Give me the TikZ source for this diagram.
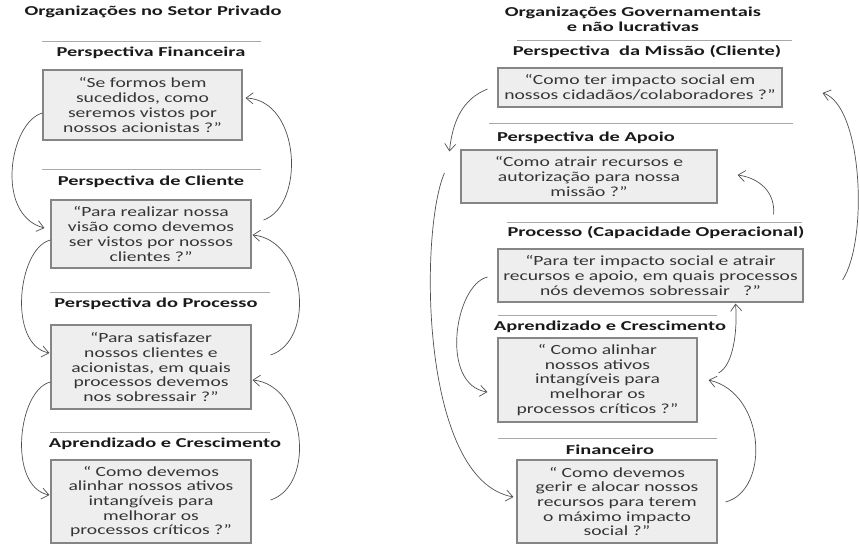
\documentclass[tikz,border=0pt]{standalone}
\usepackage{fontspec}
\setmainfont{Carlito}
\newfontfamily\bodyfont[FakeStretch=1.4]{Carlito}
\newfontfamily\headfont[FakeStretch=1.5]{Carlito}
\usetikzlibrary{arrows.meta}
\definecolor{boxfill}{HTML}{EEEEEE}
\definecolor{boxline}{HTML}{858585}
\definecolor{rulecol}{HTML}{A8A8A8}
\definecolor{linkcol}{HTML}{505050}
\definecolor{txtcol}{HTML}{353535}
\definecolor{headcol}{HTML}{1A1A1A}
\begin{document}
\begin{tikzpicture}[x=1pt,y=-1pt,
  qbox/.style={draw=boxline, line width=1.1pt, fill=boxfill, inner sep=0pt,
    align=center, text=txtcol, font=\bodyfont\fontsize{14}{14.7}\selectfont},
  head/.style={inner sep=0pt, text=headcol, font=\headfont\bfseries\fontsize{13.6}{15}\selectfont, align=center},
  rulebar/.style={draw=rulecol, line width=1pt},
  link/.style={draw=linkcol, line width=0.7pt, -{Straight Barb[length=7pt,width=11pt]}}]
\useasboundingbox[fill=white] (0,0) rectangle (860,544);

% ---------------- private sector column ----------------
\node[head] (tl) at (153,12) {Organizações no Setor Privado};

\draw[rulebar] (42,41) -- (261,41);
\node[head] (hf1) at (151,53) {Perspectiva Financeira};
\node[qbox, minimum width=199pt, minimum height=70pt] (f1) at (142.5,105)
  {“Se formos bem\\sucedidos, como\\seremos vistos por\\nossos acionistas ?”};

\draw[rulebar] (42,169) -- (261,169);
\node[head] (hc1) at (151,182) {Perspectiva de Cliente};
\node[qbox, minimum width=200pt, minimum height=68pt] (c1) at (151,234)
  {“Para realizar nossa\\visão como devemos\\ser vistos por nossos\\clientes ?”};

\draw[rulebar] (50,292) -- (270,292);
\node[head] (hp1) at (156,304) {Perspectiva do Processo};
\node[qbox, minimum width=200pt, minimum height=84pt] (p1) at (151,367)
  {“Para satisfazer\\nossos clientes e\\acionistas, em quais\\processos devemos\\nos sobressair ?”};

\draw[rulebar] (50,432) -- (270,432);
\node[head] (hl1) at (165,444) {Aprendizado e Crescimento};
\node[qbox, minimum width=200pt, minimum height=83pt] (l1) at (151,501.5)
  {“\ Como devemos\\alinhar nossos ativos\\intangíveis para\\melhorar os\\processos críticos ?”};

% feedback loops, private sector
\draw[link] ([yshift=-8pt]f1.west) .. controls +(-33,9) and +(-50,-13) .. ([xshift=-6pt,yshift=6pt]c1.west);
\draw[link] ([xshift=12pt,yshift=14pt]c1.east) .. controls +(42,-15) and +(55,2) .. ([xshift=3pt,yshift=7pt]f1.east);
\draw[link] ([yshift=-6pt]c1.west) .. controls +(-33,8) and +(-42,-8) .. ([xshift=-1pt,yshift=14pt]p1.west);
\draw[link] ([xshift=19pt,yshift=12pt]p1.east) .. controls +(46,-15) and +(53,5) .. ([xshift=1pt,yshift=-1pt]c1.east);
\draw[link] ([yshift=-15pt]p1.west) .. controls +(-33,8) and +(-42,-8) .. ([xshift=-1pt,yshift=6.5pt]l1.west);
\draw[link] ([xshift=19pt,yshift=1.5pt]l1.east) .. controls +(46,-15) and +(53,5) .. ([xshift=1pt,yshift=-13pt]p1.east);

% ---------------- public / non-profit column ----------------
\node[head] (tr) at (633,19) {Organizações Governamentais\\e não lucrativas};

\draw[rulebar] (517,40) -- (792,40);
\node[head] (hm) at (647,52) {Perspectiva\ \ da Missão (Cliente)};
\node[qbox, minimum width=284pt, minimum height=39pt] (m2) at (640,87.5)
  {“Como ter impacto social em\\nossos cidadãos/colaboradores ?”};

\draw[rulebar] (489,123) -- (793,123);
\node[head] (ha) at (586,138) {Perspectiva de Apoio};
\node[qbox, minimum width=256pt, minimum height=53pt] (a2) at (589,176.5)
  {“Como atrair recursos e\\autorização para nossa\\missão ?”};

\draw[rulebar] (507,222) -- (802,222);
\node[head] (hp2) at (656,233) {Processo (Capacidade Operacional)};
\node[qbox, minimum width=305pt, minimum height=53pt] (p2) at (650.5,275.5)
  {“Para ter impacto social e atrair\\recursos e apoio, em quais processos\\nós devemos sobressair\ \ \ ?”};

\draw[rulebar] (498,315) -- (717,315);
\node[head] (hl2) at (610,327) {Aprendizado e Crescimento};
\node[qbox, minimum width=199pt, minimum height=84pt] (l2) at (597.5,380)
  {“\ Como alinhar\\nossos ativos\\intangíveis para\\melhorar os\\processos críticos ?”};

\draw[rulebar] (498,438) -- (717,438);
\node[head] (hf2) at (610,450) {Financeiro};
\node[qbox, minimum width=200pt, minimum height=83pt] (f2) at (617,501.5)
  {“\ Como devemos\\gerir e alocar nossos\\recursos para terem\\o máximo impacto\\social ?”};

% links, public / non-profit
\draw[link] ([xshift=-10pt,yshift=-1.5pt]m2.west) .. controls +(-25,10) and +(3,-30) .. ([xshift=-11pt,yshift=-2pt]a2.north west);
\draw[link] ([xshift=39pt,yshift=-4.5pt]p2.east) .. controls +(26,-40) and +(40,12) .. ([xshift=40pt,yshift=-5.5pt]m2.east);
\draw[link] ([xshift=-30pt,yshift=34pt]p2.north east) .. controls +(2,-22) and +(22,3) .. ([xshift=20pt,yshift=1.5pt]a2.east);
\draw[link] ([xshift=-10pt,yshift=-1.5pt]p2.west) .. controls +(-33,8) and +(-48,-7) .. ([xshift=-10pt,yshift=-12pt]l2.west);
\draw[link] ([xshift=-16pt,yshift=3.5pt]a2.west) .. controls +(-25,57) and +(-94,-17) .. ([xshift=-3pt,yshift=4.5pt]f2.west);
\draw[link] ([xshift=21pt,yshift=7pt]l2.east) .. controls +(15,-8) and +(2,27) .. ([xshift=-68pt,yshift=-1pt]p2.south east);
\draw[link] ([xshift=8pt,yshift=-0.5pt]f2.east) .. controls +(45,-12) and +(57,13) .. ([xshift=11pt]l2.east);
\end{tikzpicture}
\end{document}
